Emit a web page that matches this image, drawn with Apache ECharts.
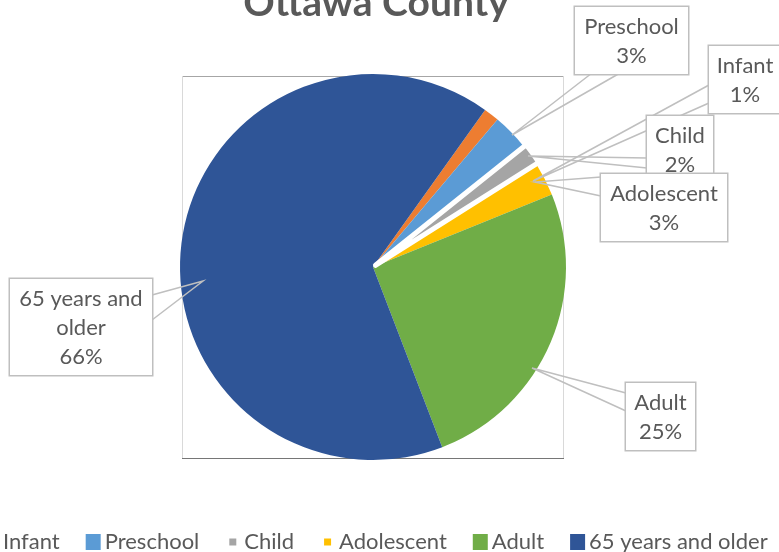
<!DOCTYPE html>
<html><head><meta charset="utf-8">
<script src="https://cdn.jsdelivr.net/npm/echarts@6/dist/echarts.min.js"></script>
<style>html,body{margin:0;padding:0;background:#fff}#c{width:779px;height:552px}</style>
</head><body><div id="c"></div>
<script>
// ---- data ----
const categories = ['Infant', 'Preschool', 'Child', 'Adolescent', 'Adult', '65 years and older'];
const values = [1.3, 3.1, 1.8, 2.8, 25.3, 65.7];
const labelNames = ['Infant', 'Preschool', 'Child', 'Adolescent', 'Adult', '65 years and\nolder'];
const colors = ['#ED7D31', '#5B9BD5', '#A5A5A5', '#FFC000', '#70AD47', '#2F5597'];
const smallLegendIcons = ['Child', 'Adolescent'];
const explodedName = 'Child';

// ---- layout of callout boxes (annotation placement) ----
const callouts = [
  {cx: 745, top: 46, w: 72, base: [[709, 85], [709, 103]], tip: [533, 181]},
  {cx: 631.5, top: 7, w: 113, base: [[592, 73], [620, 73]], tip: [512, 135]},
  {cx: 680, top: 116, w: 66, base: [[647, 158], [647, 168]], tip: [528, 156]},
  {cx: 664, top: 174, w: 126, base: [[601, 177], [601, 196]], tip: [535, 182]},
  {cx: 660.5, top: 383, w: 69, base: [[626, 393], [626, 411]], tip: [532, 368]},
  {cx: 81, top: 279, w: 142, base: [[152, 295], [152, 320]], tip: [203, 281]}
];

const FONT = 'Lato';
const TXT = '#595959';
const FS = 22;
const CENTER = [373, 267];
const RADIUS = 193;
const START = 54.5;       // echarts startAngle (deg, ccw from 3 o'clock)
const EXPLODE = 3;        // px
const smallPath = 'path://M0,0 M15,16 M4,4.5 L11,4.5 L11,11.5 L4,11.5 Z';

// exploded slice offset direction from the data
const total = values.reduce((a, b) => a + b, 0);
const ei = categories.indexOf(explodedName);
const before = values.slice(0, ei).reduce((a, b) => a + b, 0);
const midDeg = START - (before + values[ei] / 2) / total * 360;
const midRad = midDeg * Math.PI / 180;
const explodedCenter = [CENTER[0] + EXPLODE * Math.cos(midRad), CENTER[1] - EXPLODE * Math.sin(midRad)];

const clear = 'rgba(0,0,0,0)';

const chart = echarts.init(document.getElementById('c'), null, {renderer: 'canvas'});
chart.setOption({
  animation: false,
  backgroundColor: '#fff',
  title: {
    text: 'Ottawa County', left: 376, top: -16, padding: 0, textAlign: 'center',
    textStyle: {fontFamily: FONT, fontWeight: 'bold', fontSize: 39, color: TXT}
  },
  graphic: [
    {type: 'line', z: -10, shape: {x1: 182, y1: 76.5, x2: 563, y2: 76.5}, style: {stroke: '#a6a6a6', lineWidth: 1}},
    {type: 'line', z: -10, shape: {x1: 182.5, y1: 76, x2: 182.5, y2: 458}, style: {stroke: '#d9d9d9', lineWidth: 1}},
    {type: 'line', z: -10, shape: {x1: 563.5, y1: 76, x2: 563.5, y2: 458}, style: {stroke: '#d9d9d9', lineWidth: 1}},
    {type: 'line', z: -10, shape: {x1: 182, y1: 458.5, x2: 564, y2: 458.5}, style: {stroke: '#767676', lineWidth: 1}}
  ],
  legend: {
    data: categories.map(n => ({name: n, icon: smallLegendIcons.includes(n) ? smallPath : 'rect'})),
    left: -16, top: 531, padding: 0,
    itemWidth: 15, itemHeight: 16, itemGap: 26,
    selectedMode: false,
    textStyle: {fontFamily: FONT, fontSize: FS, color: TXT, padding: [0, 0, 0, -1]}
  },
  series: [
    { // base pie
      type: 'pie', z: 2, center: CENTER, radius: RADIUS, startAngle: START, clockwise: true,
      silent: true, emphasis: {disabled: true},
      data: categories.map((n, i) => ({name: n, value: values[i], itemStyle: {color: colors[i]}})),
      label: {show: false}, labelLine: {show: false}
    },
    { // exploded slice drawn on top with white gap
      type: 'pie', z: 3, center: explodedCenter, radius: RADIUS, startAngle: START, clockwise: true,
      silent: true, emphasis: {disabled: true},
      data: categories.map((n, i) => ({
        name: n, value: values[i],
        itemStyle: n === explodedName
          ? {color: colors[i], borderColor: '#fff', borderWidth: 5}
          : {color: clear, borderWidth: 0}
      })),
      label: {show: false}, labelLine: {show: false}
    },
    { // callout labels on top
      type: 'pie', z: 4, center: CENTER, radius: RADIUS, startAngle: START, clockwise: true,
      silent: true, emphasis: {disabled: true}, avoidLabelOverlap: false,
      data: categories.map((n, i) => ({
        name: n, value: values[i], itemStyle: {color: clear, borderWidth: 0},
        label: {width: callouts[i].w}
      })),
      label: {
        show: true, position: 'outside',
        formatter: p => labelNames[p.dataIndex] + '\n' + Math.round(p.percent) + '%',
        fontFamily: FONT, fontSize: FS, color: TXT, lineHeight: 29,
        backgroundColor: '#fff', borderColor: '#bfbfbf', borderWidth: 1.5,
        padding: [5, 0, 4, 0], align: 'center'
      },
      labelLine: {show: true, length: 10, length2: 10, lineStyle: {color: '#bfbfbf', width: 1.5}},
      labelLayout: p => {
        const c = callouts[p.dataIndex];
        return {x: c.cx, y: c.top, align: 'center', verticalAlign: 'top',
                labelLinePoints: [c.base[0], c.tip, c.base[1]]};
      }
    }
  ]
});
</script></body></html>
